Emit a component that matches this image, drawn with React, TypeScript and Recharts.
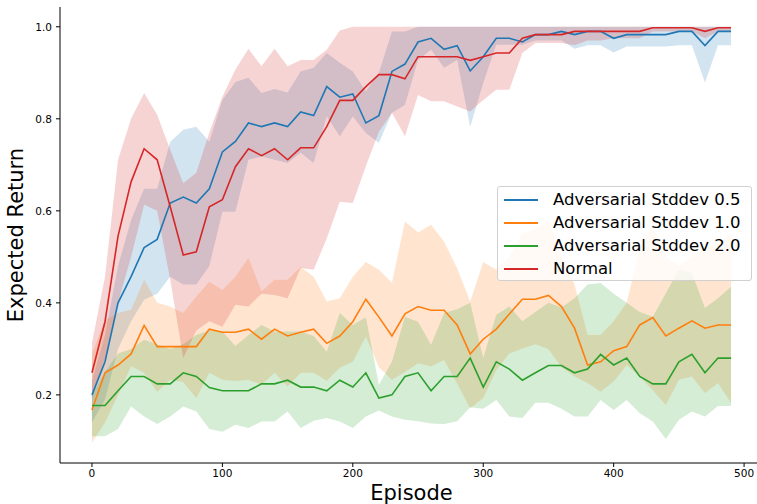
import React from 'react';
import { ComposedChart, Line, Area, XAxis, YAxis } from 'recharts';

// episodes 0..490, step 10
const episodes = [
  0, 10, 20, 30, 40, 50, 60, 70, 80, 90, 100, 110, 120, 130, 140, 150, 160, 170, 180, 190,
  200, 210, 220, 230, 240, 250, 260, 270, 280, 290, 300, 310, 320, 330, 340, 350, 360, 370, 380, 390,
  400, 410, 420, 430, 440, 450, 460, 470, 480, 490,
];

const std05Mean = [
  0.2, 0.272, 0.4, 0.457, 0.52, 0.538, 0.617, 0.63, 0.617, 0.648, 0.728, 0.751, 0.791, 0.783, 0.791, 0.783, 0.815, 0.807, 0.87, 0.847,
  0.854, 0.791, 0.807, 0.903, 0.919, 0.967, 0.975, 0.951, 0.959, 0.904, 0.935, 0.975, 0.975, 0.967, 0.983, 0.983, 0.99, 0.983, 0.99, 0.99,
  0.975, 0.983, 0.983, 0.983, 0.983, 0.99, 0.99, 0.959, 0.99, 0.99,
];
const std05Low = [
  0.14, 0.19, 0.3, 0.36, 0.407, 0.42, 0.457, 0.44, 0.44, 0.48, 0.598, 0.598, 0.711, 0.718, 0.711, 0.704, 0.726, 0.704, 0.805, 0.762,
  0.805, 0.769, 0.748, 0.813, 0.83, 0.928, 0.95, 0.911, 0.928, 0.783, 0.878, 0.961, 0.961, 0.961, 0.97, 0.97, 0.97, 0.952, 0.96, 0.96,
  0.944, 0.957, 0.957, 0.957, 0.957, 0.96, 0.96, 0.879, 0.96, 0.96,
];
const std05High = [
  0.23, 0.33, 0.48, 0.58, 0.648, 0.648, 0.75, 0.776, 0.783, 0.75, 0.841, 0.88, 0.889, 0.856, 0.865, 0.857, 0.903, 0.911, 0.943, 0.922,
  0.903, 0.86, 0.9, 0.99, 0.99, 1, 1, 1, 1, 1, 1, 1, 1, 1, 1, 1, 1, 1, 1, 1,
  1, 1, 1, 1, 1, 1, 1, 1, 1, 1,
];

const std10Mean = [
  0.167, 0.248, 0.265, 0.289, 0.351, 0.305, 0.305, 0.305, 0.305, 0.343, 0.336, 0.336, 0.343, 0.321, 0.343, 0.328, 0.336, 0.343, 0.312, 0.328,
  0.359, 0.408, 0.369, 0.328, 0.376, 0.392, 0.384, 0.384, 0.352, 0.289, 0.321, 0.343, 0.376, 0.408, 0.408, 0.416, 0.392, 0.345, 0.265, 0.272,
  0.296, 0.305, 0.352, 0.368, 0.328, 0.345, 0.361, 0.345, 0.352, 0.352,
];
const std10Low = [
  0.096, 0.14, 0.2, 0.262, 0.248, 0.207, 0.233, 0.228, 0.193, 0.248, 0.233, 0.23, 0.233, 0.222, 0.248, 0.218, 0.248, 0.248, 0.231, 0.259,
  0.272, 0.327, 0.26, 0.233, 0.25, 0.269, 0.262, 0.276, 0.225, 0.171, 0.193, 0.254, 0.29, 0.301, 0.31, 0.3, 0.26, 0.24, 0.226, 0.207,
  0.229, 0.265, 0.24, 0.21, 0.178, 0.233, 0.24, 0.204, 0.226, 0.183,
];
const std10High = [
  0.29, 0.363, 0.378, 0.385, 0.45, 0.4, 0.392, 0.378, 0.414, 0.446, 0.428, 0.457, 0.498, 0.425, 0.45, 0.45, 0.478, 0.457, 0.403, 0.41,
  0.457, 0.489, 0.472, 0.444, 0.577, 0.553, 0.57, 0.533, 0.475, 0.403, 0.489, 0.472, 0.5, 0.55, 0.56, 0.58, 0.5, 0.44, 0.33, 0.33,
  0.36, 0.4, 0.52, 0.57, 0.5, 0.48, 0.5, 0.52, 0.53, 0.55,
];

const std20Mean = [
  0.177, 0.177, 0.209, 0.24, 0.24, 0.224, 0.224, 0.248, 0.24, 0.216, 0.209, 0.209, 0.209, 0.224, 0.224, 0.232, 0.217, 0.217, 0.209, 0.232,
  0.217, 0.248, 0.193, 0.2, 0.24, 0.248, 0.209, 0.24, 0.24, 0.28, 0.217, 0.272, 0.256, 0.232, 0.248, 0.264, 0.264, 0.248, 0.256, 0.288,
  0.265, 0.28, 0.24, 0.224, 0.224, 0.272, 0.288, 0.248, 0.28, 0.28,
];
const std20Low = [
  0.11, 0.11, 0.126, 0.175, 0.153, 0.137, 0.153, 0.175, 0.164, 0.126, 0.12, 0.135, 0.128, 0.142, 0.142, 0.164, 0.128, 0.144, 0.15, 0.142,
  0.128, 0.153, 0.166, 0.153, 0.146, 0.143, 0.138, 0.137, 0.143, 0.173, 0.17, 0.189, 0.153, 0.15, 0.183, 0.183, 0.17, 0.153, 0.153, 0.189,
  0.167, 0.189, 0.16, 0.142, 0.104, 0.146, 0.164, 0.153, 0.176, 0.176,
];
const std20High = [
  0.2, 0.25, 0.29, 0.3, 0.32, 0.31, 0.3, 0.31, 0.33, 0.34, 0.338, 0.306, 0.33, 0.352, 0.338, 0.338, 0.338, 0.328, 0.294, 0.378,
  0.352, 0.369, 0.222, 0.272, 0.37, 0.359, 0.309, 0.378, 0.386, 0.4, 0.28, 0.374, 0.392, 0.36, 0.38, 0.4, 0.39, 0.41, 0.44, 0.443,
  0.42, 0.4, 0.38, 0.37, 0.421, 0.472, 0.465, 0.389, 0.41, 0.435,
];

const normalMean = [
  0.248, 0.359, 0.545, 0.663, 0.735, 0.711, 0.609, 0.504, 0.511, 0.609, 0.624, 0.696, 0.735, 0.72, 0.735, 0.711, 0.737, 0.737, 0.783, 0.84,
  0.84, 0.87, 0.896, 0.896, 0.887, 0.935, 0.935, 0.935, 0.935, 0.927, 0.935, 0.943, 0.943, 0.975, 0.983, 0.983, 0.983, 0.99, 0.99, 0.99,
  0.99, 0.99, 0.99, 0.998, 0.998, 0.998, 0.998, 0.99, 0.998, 0.998,
];
const normalLow = [
  0.19, 0.28, 0.4, 0.5, 0.613, 0.6, 0.45, 0.28, 0.34, 0.36, 0.348, 0.396, 0.392, 0.42, 0.417, 0.41, 0.476, 0.472, 0.54, 0.62,
  0.617, 0.697, 0.772, 0.813, 0.762, 0.852, 0.838, 0.838, 0.827, 0.816, 0.841, 0.863, 0.863, 0.943, 0.965, 0.965, 0.965, 0.96, 0.97, 0.97,
  0.975, 0.975, 0.975, 0.99, 0.99, 0.99, 0.99, 0.975, 0.99, 0.99,
];
const normalHigh = [
  0.313, 0.457, 0.711, 0.8, 0.856, 0.809, 0.733, 0.66, 0.683, 0.77, 0.848, 0.907, 0.952, 0.914, 0.952, 0.914, 0.928, 0.928, 0.95, 0.992,
  1, 1, 1, 1, 1, 1, 1, 1, 1, 1, 1, 1, 1, 1, 1, 1, 1, 1, 1, 1,
  1, 1, 1, 1, 1, 1, 1, 1, 1, 1,
];

const xTicks = [0, 100, 200, 300, 400, 500];
const yTicks = [0.2, 0.4, 0.6, 0.8, 1.0];

const series = [
  { key: 's05', name: 'Adversarial Stddev 0.5', color: '#1f77b4' },
  { key: 's10', name: 'Adversarial Stddev 1.0', color: '#ff7f0e' },
  { key: 's20', name: 'Adversarial Stddev 2.0', color: '#2ca02c' },
  { key: 'normal', name: 'Normal', color: '#d62728' },
];

const data = episodes.map((ep, i) => ({
  episode: ep,
  s05: std05Mean[i],
  s05Band: [std05Low[i], std05High[i]],
  s10: std10Mean[i],
  s10Band: [std10Low[i], std10High[i]],
  s20: std20Mean[i],
  s20Band: [std20Low[i], std20High[i]],
  normal: normalMean[i],
  normalBand: [normalLow[i], normalHigh[i]],
}));

const font = 'DejaVu Sans, sans-serif';

const App: React.FC = () => {
  return (
    <div style={{ position: 'absolute', left: 0, top: 0, width: 757, height: 504, overflow: 'hidden', background: '#fff', fontFamily: font }}>
      <ComposedChart width={775} height={504} data={data} margin={{ top: 7, right: 12, left: 0, bottom: 0 }}>
        <XAxis
          dataKey="episode"
          type="number"
          domain={[-24.5, 514.5]}
          ticks={xTicks}
          allowDataOverflow
          height={41}
          tickSize={4}
          tickMargin={3}
          stroke="#000"
          tick={{ fill: '#000', fontSize: 10.5, fontFamily: font }}
          label={{ value: 'Episode', position: 'insideBottom', offset: 4, fill: '#000', fontSize: 21, fontFamily: font }}
        />
        <XAxis
          xAxisId="top"
          orientation="top"
          dataKey="episode"
          type="number"
          domain={[-24.5, 514.5]}
          height={0}
          tick={false}
          tickLine={false}
          stroke="#000"
        />
        <YAxis
          type="number"
          domain={[0.052, 1.043]}
          ticks={yTicks}
          allowDataOverflow
          width={60}
          tickSize={4}
          tickMargin={4}
          stroke="#000"
          tickFormatter={(v: number) => v.toFixed(1)}
          tick={{ fill: '#000', fontSize: 10.5, fontFamily: font }}
          label={{
            value: 'Expected Return',
            angle: -90,
            position: 'insideLeft',
            offset: 16,
            fill: '#000',
            fontSize: 21,
            fontFamily: font,
            style: { textAnchor: 'middle' },
          }}
        />
        {series.map((s) => (
          <Area
            key={s.key + 'Band'}
            type="linear"
            dataKey={s.key + 'Band'}
            stroke="none"
            fill={s.color}
            fillOpacity={0.2}
            dot={false}
            activeDot={false}
            isAnimationActive={false}
          />
        ))}
        {series.map((s) => (
          <Line
            key={s.key}
            type="linear"
            dataKey={s.key}
            stroke={s.color}
            strokeWidth={1.6}
            dot={false}
            activeDot={false}
            isAnimationActive={false}
          />
        ))}
      </ComposedChart>
      <div
        style={{
          position: 'absolute',
          left: 497,
          top: 186,
          width: 255,
          height: 95,
          boxSizing: 'border-box',
          background: 'rgba(255,255,255,0.8)',
          border: '1px solid #d0d0d0',
          borderRadius: 3,
        }}
      >
        {series.map((s, i) => (
          <div key={s.key} style={{ position: 'absolute', left: 0, top: 2 + i * 23, height: 22, width: 255 }}>
            <div style={{ position: 'absolute', left: 6, top: 10, width: 34, height: 2, background: s.color }} />
            <div style={{ position: 'absolute', left: 55, top: 0, fontSize: 16.5, lineHeight: '22px', color: '#000', whiteSpace: 'nowrap' }}>
              {s.name}
            </div>
          </div>
        ))}
      </div>
    </div>
  );
};

export default App;
